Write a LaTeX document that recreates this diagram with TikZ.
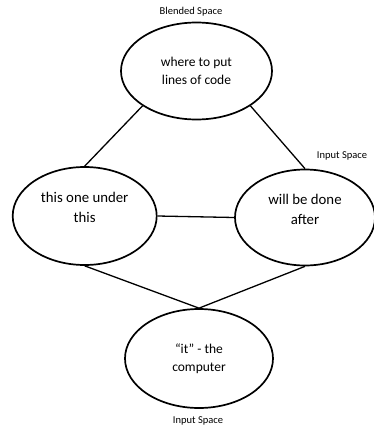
\documentclass[tikz,border=0pt]{standalone}
\usepackage{fontspec}
\setmainfont{Carlito}
\usetikzlibrary{shapes.geometric}

\begin{document}
\begin{tikzpicture}[x=1pt, y=-1pt,
        space/.style={ellipse, draw, line width=1.7pt, inner sep=0pt, align=center},
        link/.style={line width=1.3pt}]
        \useasboundingbox (0,0) rectangle (373,429);

        % Elipses
        \node[space, minimum width=151pt, minimum height=97pt, font=\fontsize{13.5}{17.5}\selectfont] (T) at (196.5,71) {where to put\\lines of code};
        \node[space, minimum width=144pt, minimum height=98pt, font=\fontsize{14.8}{20}\selectfont] (L) at (84.7,216) {this one under\\this\\[-9pt]\strut};
        \node[space, minimum width=140pt, minimum height=96pt, font=\fontsize{14.8}{20}\selectfont] (R) at (305,217.5) {will be done\\after\\[-9pt]\strut};
        \node[space, minimum width=148pt, minimum height=99pt, font=\fontsize{13.5}{18}\selectfont] (D) at (199,358.5) {“it” - the\\computer};

        % Pavadinimai
        \node[font=\fontsize{10.5}{12}\selectfont] (tname) at (191,12) {Blended Space};
        \node[font=\fontsize{10.5}{12}\selectfont] (rname) at (342,156) {Input Space};
        \node[font=\fontsize{10.5}{12}\selectfont] (dname) at (198,421) {Input Space};

        % Jungtys
        \draw[link] (T.south west) -- (L.north);
        \draw[link] (T.south east) -- (R.north);
        \draw[link] (L.east) -- (R.west);
        \draw[link] (L.south) -- (D.north);
        \draw[link] (R.south) -- (D.north);
    \end{tikzpicture}
\end{document}
